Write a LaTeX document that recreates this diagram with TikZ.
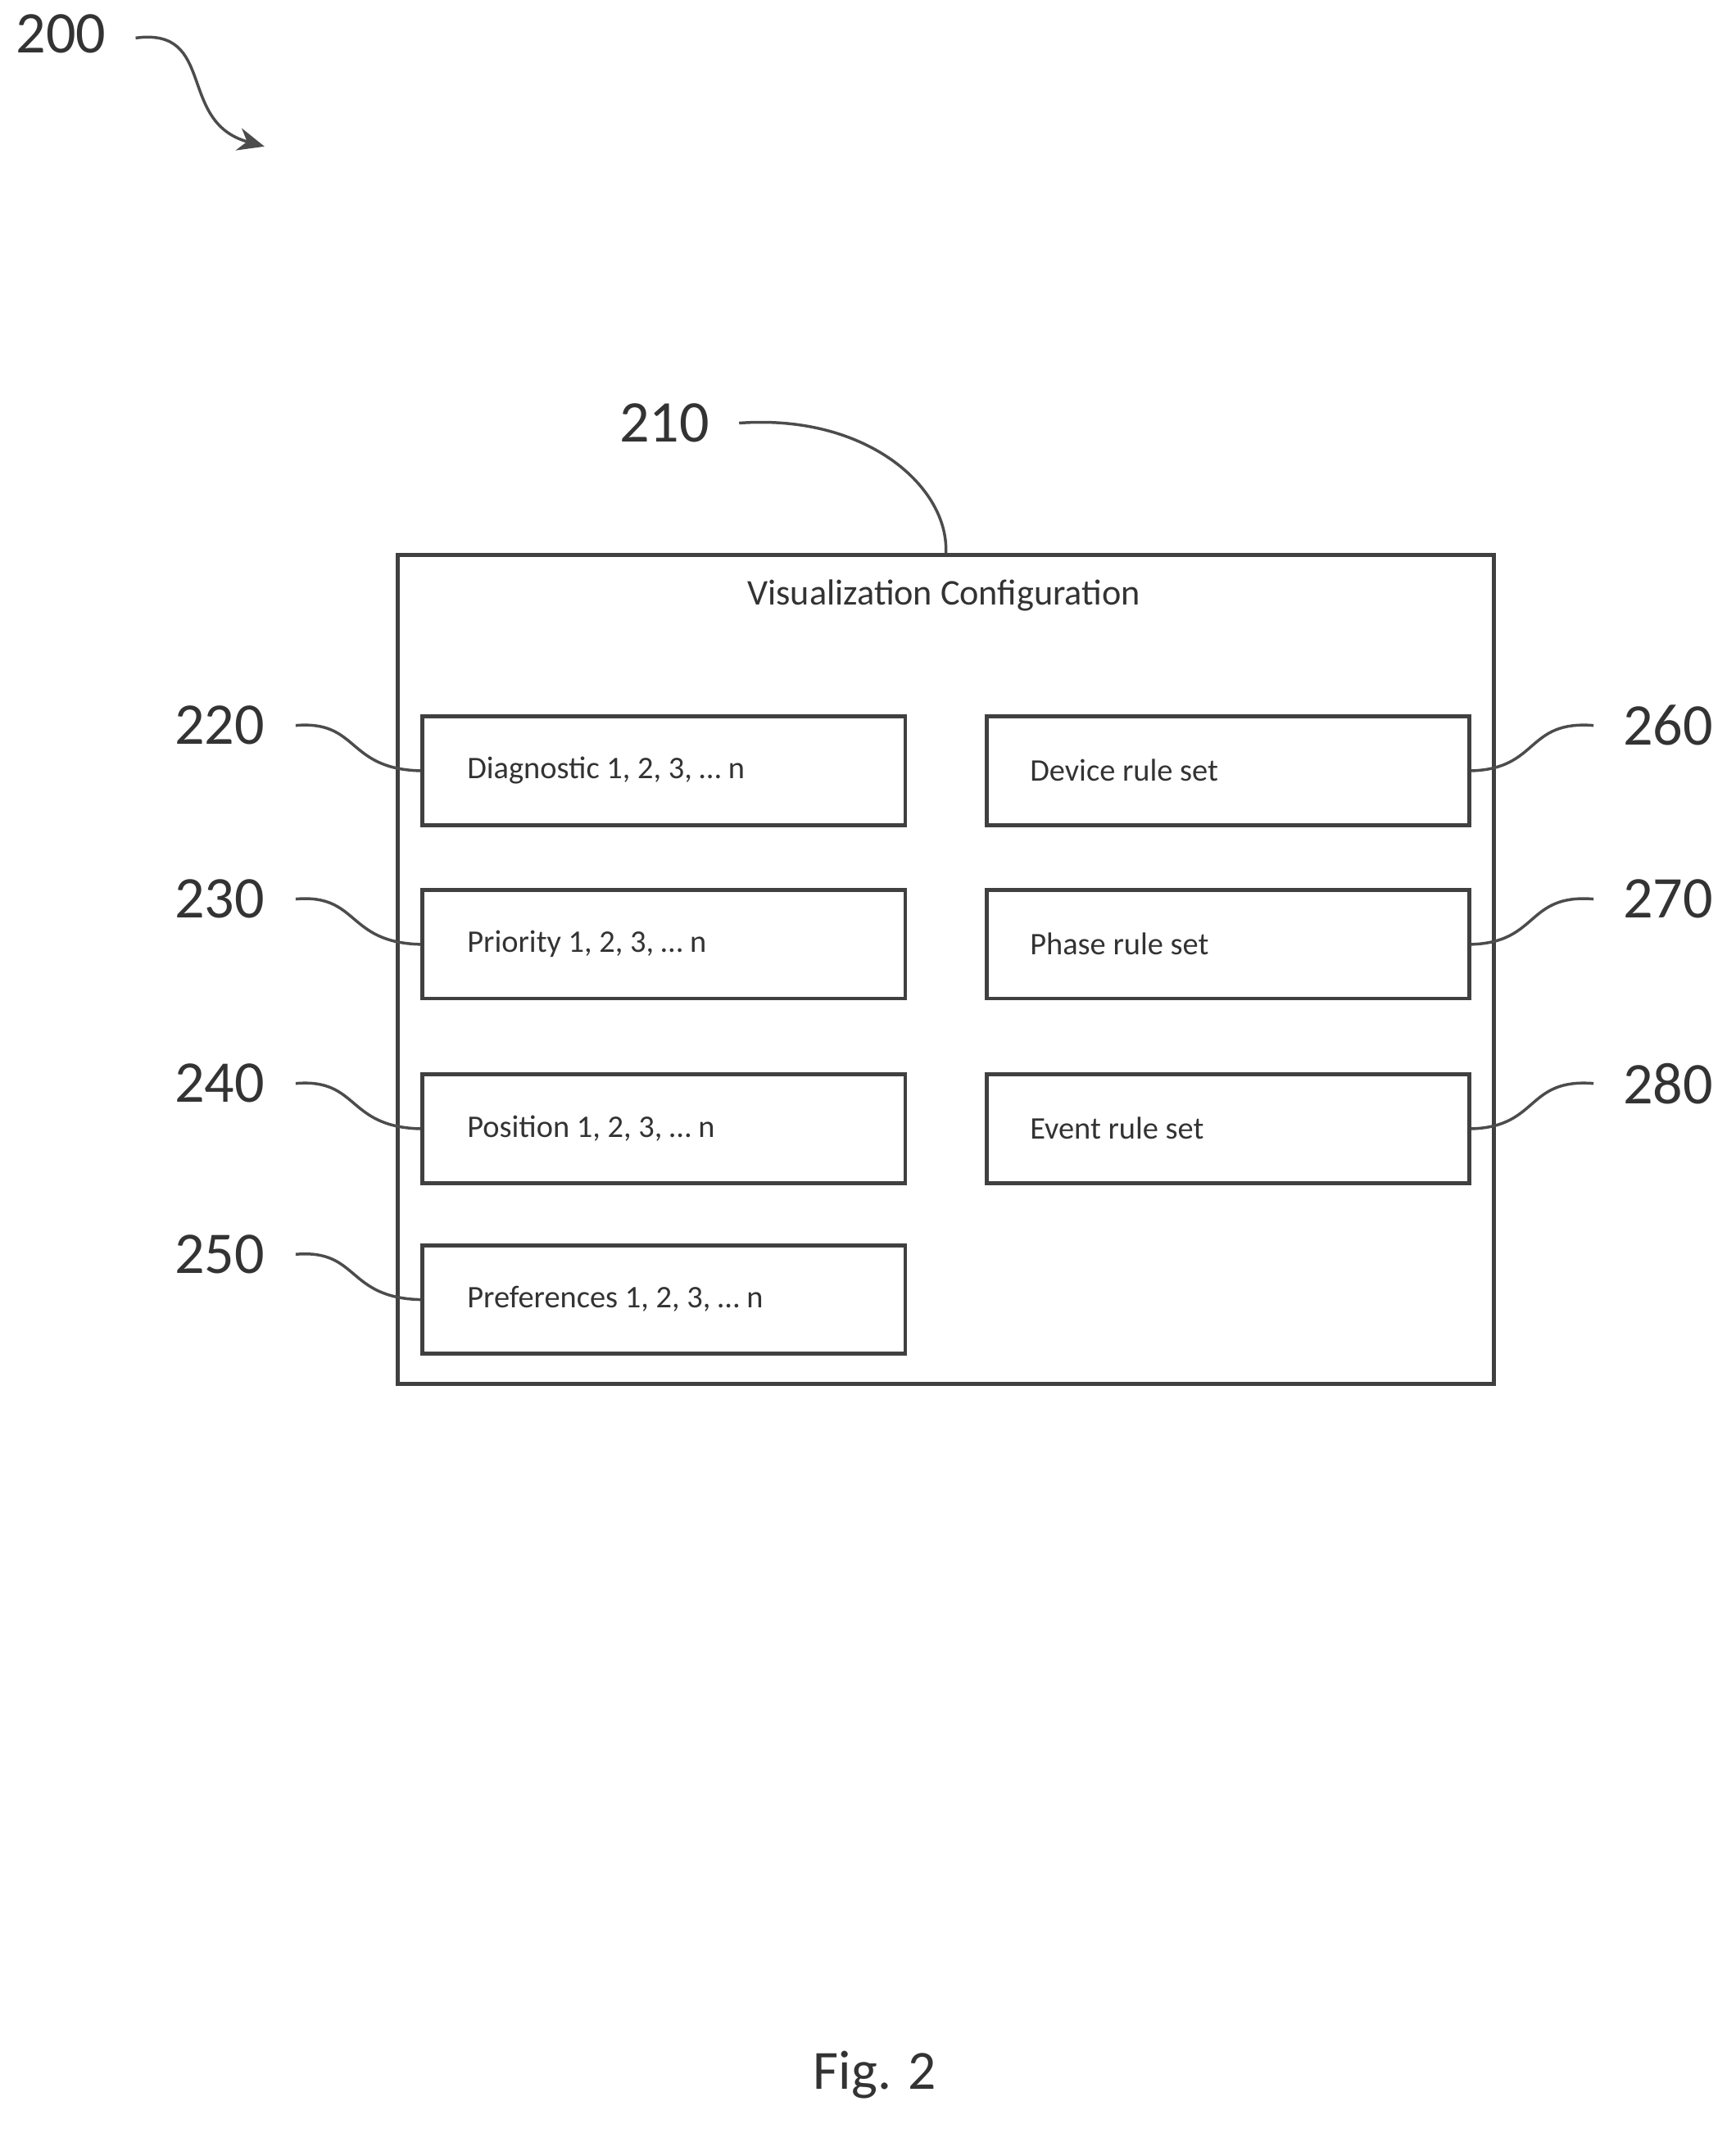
\documentclass[tikz,border=0pt]{standalone}
\usepackage{fontspec}
\setmainfont{Carlito}
\usetikzlibrary{arrows.meta}
\begin{document}
\begin{tikzpicture}[x=0.05cm,y=-0.05cm,
 box/.style={draw=black!75,line width=4pt,minimum width=356*0.05cm,minimum height=80*0.05cm,anchor=north west,inner sep=0pt},
 btxt/.style={font=\fontsize{33}{36}\selectfont,text=black!80,anchor=west},
 lbl/.style={font=\fontsize{62}{66}\selectfont,text=black!80},
 lead/.style={draw=black!70,line width=3pt}]
\useasboundingbox (0,0) rectangle (1280,1573);
\node[draw=black!75,line width=4pt,minimum width=808*0.05cm,minimum height=611*0.05cm,anchor=north west,inner sep=0pt] (outer) at (292,408) {};
\node[font=\fontsize{38}{42}\selectfont,text=black!80] (title) at (696,439) {Visualization Configuration};
\foreach \n/\y/\t in {220/527/{Diagnostic 1, 2, 3, … n},230/655/{Priority 1, 2, 3, … n},240/791/{Position 1, 2, 3, … n},250/917/{Preferences 1, 2, 3, … n}}{
  \node[box] (b\n) at (310,\y) {};
  \node[btxt] at (342,\y+41) {\t};
  \node[lbl] (l\n) at (162,\y+8) {\n};
  \draw[lead] (218,\y+8) .. controls (265,\y+4) and (255,\y+40) .. (b\n.west);
}
\foreach \n/\y/\t in {260/527/{Device rule set},270/655/{Phase rule set},280/791/{Event rule set}}{
  \node[box] (b\n) at (726,\y) {};
  \node[btxt] at (757,\y+41) {\t};
  \node[lbl] (l\n) at (1230,\y+8) {\n};
  \draw[lead] (1175,\y+8) .. controls (1125,\y+4) and (1135,\y+40) .. (b\n.east);
}
\node[lbl] (l210) at (490,312) {210};
\draw[lead] (545,312) .. controls (640,305) and (700,360) .. (outer.north);
\node[lbl] (l200) at (45,25) {200};
\coordinate (a200) at (195,108);
\draw[lead,-{Stealth[length=28pt,width=24pt]}] (100,28) .. controls (160,20) and (130,90) .. (a200);
\node[font=\fontsize{58}{62}\selectfont,text=black!80] (fig) at (645,1530) {Fig. 2};
\end{tikzpicture}
\end{document}
